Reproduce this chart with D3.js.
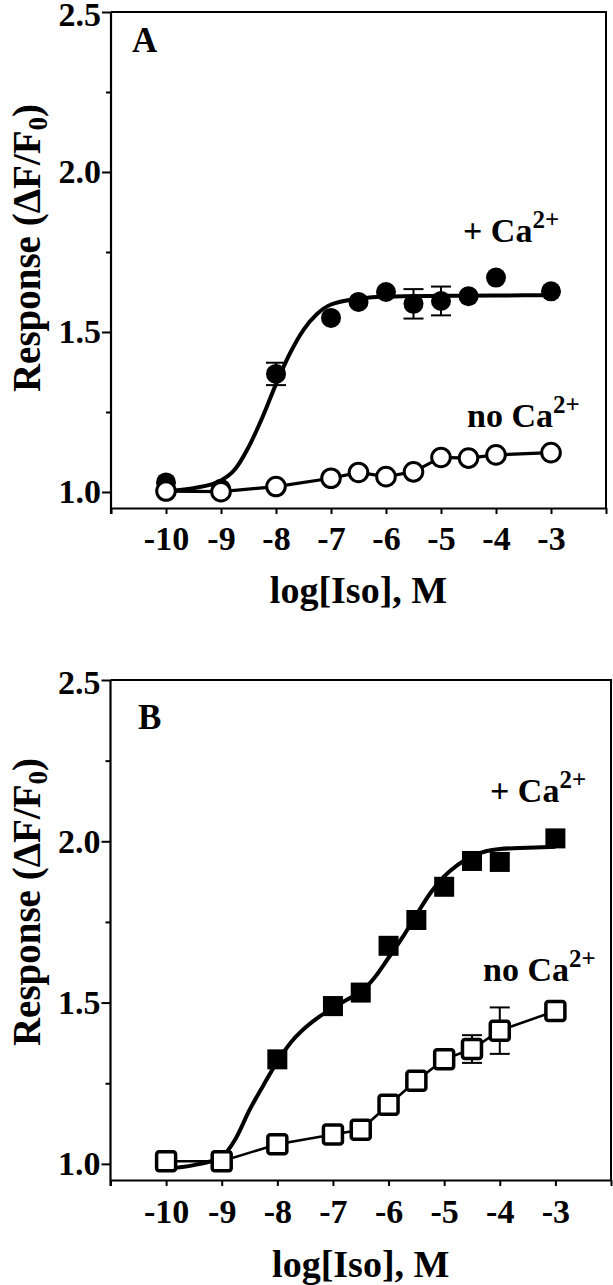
<!DOCTYPE html>
<html><head><meta charset="utf-8">
<script src="https://cdn.jsdelivr.net/npm/d3@7"></script>
<style>
html,body{margin:0;padding:0;background:#fff;}
svg{display:block;}
text{font-family:"Liberation Serif","Times New Roman",serif;font-weight:bold;fill:#000;}
</style></head><body>
<svg id="chart" width="613" height="1285"></svg>
<script>
// ---------- shared axis data ----------
const xTickValues = [-10, -9, -8, -7, -6, -5, -4, -3];
const xEndTicks = [-11, -2];
const yTickValues = [1.0, 1.5, 2.0, 2.5];
const yMinorTickValues = [1.25, 1.75, 2.25];
const xDomain = [-11, -2];
const yDomain = [0.95, 2.5];
const xTitle = "log[Iso], M";

// ---------- panel A ----------
const logIsoA = [-10, -9, -8, -7, -6.5, -6, -5.5, -5, -4.5, -4, -3];
const caA = [1.03, 1.01, 1.369, 1.544, 1.594, 1.625, 1.588, 1.597, 1.612, 1.670, 1.627];
const caAErr = [0, 0, 0.035, 0, 0, 0, 0.046, 0.045, 0, 0, 0];
const noCaA = [1.003, 1.001, 1.017, 1.043, 1.061, 1.048, 1.063, 1.108, 1.106, 1.116, 1.123];
const noCaAErr = [0, 0, 0, 0, 0, 0, 0, 0, 0, 0, 0];
const fitAx = [-10, -9.5, -9, -8.75, -8.5, -8.25, -8, -7.75, -7.5, -7.25, -7, -6.5, -6, -5, -4, -3];
const fitAy = [1.003, 1.012, 1.036, 1.07, 1.14, 1.232, 1.337, 1.432, 1.507, 1.557, 1.586, 1.604, 1.611, 1.613, 1.614, 1.615];

// ---------- panel B ----------
const logIsoB = [-10, -9, -8, -7, -6.5, -6, -5.5, -5, -4.5, -4, -3];
const caB = [1.008, 1.008, 1.324, 1.489, 1.531, 1.676, 1.756, 1.859, 1.939, 1.936, 2.009];
const caBErr = [0, 0, 0, 0.027, 0, 0, 0, 0, 0.015, 0, 0];
const noCaB = [1.008, 1.008, 1.061, 1.091, 1.106, 1.183, 1.258, 1.324, 1.356, 1.413, 1.474];
const noCaBErr = [0, 0, 0, 0, 0, 0, 0, 0, 0.043, 0.072, 0];
const fitBx = [-10, -9.5, -9, -8.75, -8.5, -8.25, -8, -7.75, -7.5, -7.25, -7, -6.75, -6.5, -6.25, -6, -5.75, -5.5, -5.25, -5, -4.75, -4.5, -4.25, -4, -3.5, -3];
const fitBy = [0.985, 0.996, 1.022, 1.078, 1.167, 1.244, 1.317, 1.378, 1.422, 1.456, 1.483, 1.509, 1.533, 1.578, 1.639, 1.702, 1.772, 1.839, 1.891, 1.928, 1.953, 1.969, 1.976, 1.980, 1.983];

const svg = d3.select("#chart");

function drawPanel(cfg) {
  const x = d3.scaleLinear().domain(xDomain).range([cfg.left, cfg.right]);
  const y = d3.scaleLinear().domain(yDomain).range([cfg.bottom, cfg.top]);
  const g = svg.append("g");

  // frame (top & right)
  g.append("path")
    .attr("d", `M${cfg.left},${cfg.top}H${cfg.right}V${cfg.bottom}`)
    .attr("fill", "none").attr("stroke", "#000").attr("stroke-width", 2);

  // x axis
  const xAxis = d3.axisBottom(x)
    .tickValues(xEndTicks.concat(xTickValues))
    .tickSize(6).tickSizeOuter(0)
    .tickFormat(d => xTickValues.includes(d) ? String(d) : "");
  const gx = g.append("g").attr("transform", `translate(0,${cfg.bottom})`).call(xAxis);
  gx.select(".domain").attr("stroke-width", 2.2);
  gx.selectAll(".tick line").attr("stroke-width", 2);
  gx.selectAll(".tick text").attr("font-size", 34)
    .attr("dy", null).attr("y", cfg.xLabelDy);

  // y axis major
  const yAxis = d3.axisLeft(y)
    .tickValues(yTickValues).tickSize(9).tickSizeOuter(0).tickPadding(1)
    .tickFormat(d3.format(".1f"));
  const gy = g.append("g").attr("transform", `translate(${cfg.left},0)`).call(yAxis);
  gy.select(".domain").attr("stroke-width", 2.2)
    .attr("d", `M0,${cfg.bottom + 6}V${cfg.top}`);
  gy.selectAll(".tick line").attr("stroke-width", 2);
  gy.selectAll(".tick text").attr("font-size", 34)
    .attr("y", d => d === yTickValues[yTickValues.length - 1] ? 3 : 0);

  // y axis minor
  const yMinor = d3.axisLeft(y).tickValues(yMinorTickValues).tickSize(5).tickFormat("");
  const gym = g.append("g").attr("transform", `translate(${cfg.left},0)`).call(yMinor);
  gym.select(".domain").remove();
  gym.selectAll(".tick line").attr("stroke-width", 2);

  // y title
  const yt = g.append("text")
    .attr("transform", `translate(${cfg.yTitleX},${cfg.yTitleY}) rotate(-90)`)
    .attr("text-anchor", "middle").attr("font-size", 39);
  yt.append("tspan").text("Response (\u0394F/F");
  yt.append("tspan").attr("font-size", 27).attr("dy", 7).text("0");
  yt.append("tspan").attr("dy", -7).text(")");

  // x title
  g.append("text").attr("x", (cfg.left + cfg.right) / 2).attr("y", cfg.xTitleY)
    .attr("text-anchor", "middle").attr("font-size", 38).text(xTitle);

  // panel letter
  g.append("text").attr("x", cfg.letterX).attr("y", cfg.letterY)
    .attr("font-size", 35).text(cfg.letter);

  // series annotations
  cfg.labels.forEach(l => {
    const t = g.append("text").attr("x", l.x).attr("y", l.y).attr("font-size", 34);
    t.append("tspan").text(l.text);
    t.append("tspan").attr("font-size", 25).attr("dy", -14).text("2+");
  });

  // fitted curve (+Ca)
  const fitPts = cfg.fitX.map((v, i) => [v, cfg.fitY[i]]);
  g.append("path").datum(fitPts)
    .attr("d", d3.line().x(d => x(d[0])).y(d => y(d[1])).curve(d3.curveMonotoneX))
    .attr("fill", "none").attr("stroke", "#000").attr("stroke-width", 4);

  // no Ca line
  const noPts = cfg.xs.map((v, i) => [v, cfg.noCa[i]]);
  g.append("path").datum(noPts)
    .attr("d", d3.line().x(d => x(d[0])).y(d => y(d[1])))
    .attr("fill", "none").attr("stroke", "#000").attr("stroke-width", cfg.noCaWidth);

  // error bars
  function errBars(vals, errs) {
    const data = cfg.xs.map((v, i) => ({x: v, y: vals[i], e: errs[i]})).filter(d => d.e > 0);
    const eg = g.append("g").attr("stroke", "#000").attr("stroke-width", 2);
    data.forEach(d => {
      const cx = x(d.x), y1 = y(d.y + d.e), y2 = y(d.y - d.e);
      eg.append("line").attr("x1", cx).attr("x2", cx).attr("y1", y1).attr("y2", y2);
      eg.append("line").attr("x1", cx - 10).attr("x2", cx + 10).attr("y1", y1).attr("y2", y1);
      eg.append("line").attr("x1", cx - 10).attr("x2", cx + 10).attr("y1", y2).attr("y2", y2);
    });
  }
  errBars(cfg.ca, cfg.caErr);
  errBars(cfg.noCa, cfg.noCaErr);

  const caPts = cfg.xs.map((v, i) => [v, cfg.ca[i]]);
  if (cfg.marker === "circle") {
    g.selectAll(".ca").data(caPts).enter().append("circle")
      .attr("cx", d => x(d[0])).attr("cy", d => y(d[1])).attr("r", 10).attr("fill", "#000");
    g.selectAll(".noca").data(noPts).enter().append("circle")
      .attr("cx", d => x(d[0])).attr("cy", d => y(d[1])).attr("r", 9.3)
      .attr("fill", "#fff").attr("stroke", "#000").attr("stroke-width", 3);
  } else {
    const s = 20;
    g.selectAll(".ca").data(caPts).enter().append("rect")
      .attr("x", d => x(d[0]) - s / 2).attr("y", d => y(d[1]) - s / 2)
      .attr("width", s).attr("height", s).attr("fill", "#000");
    const so = 19;
    g.selectAll(".noca").data(noPts).enter().append("rect")
      .attr("x", d => x(d[0]) - so / 2).attr("y", d => y(d[1]) - so / 2)
      .attr("width", so).attr("height", so).attr("rx", 2.5)
      .attr("fill", "#fff").attr("stroke", "#000").attr("stroke-width", 3.5);
  }
}

drawPanel({
  left: 111, right: 606, top: 12, bottom: 508,
  xLabelDy: 42, xTitleY: 603, yTitleX: 40, yTitleY: 248,
  letter: "A", letterX: 132, letterY: 52,
  labels: [{text: "+ Ca", x: 463, y: 242}, {text: "no Ca", x: 467, y: 427}],
  xs: logIsoA, ca: caA, caErr: caAErr, noCa: noCaA, noCaErr: noCaAErr,
  fitX: fitAx, fitY: fitAy, marker: "circle", noCaWidth: 3.2
});

drawPanel({
  left: 110.5, right: 611, top: 680, bottom: 1180,
  xLabelDy: 43, xTitleY: 1277, yTitleX: 40, yTitleY: 902,
  letter: "B", letterX: 138, letterY: 729,
  labels: [{text: "+ Ca", x: 490, y: 802}, {text: "no Ca", x: 483, y: 981}],
  xs: logIsoB, ca: caB, caErr: caBErr, noCa: noCaB, noCaErr: noCaBErr,
  fitX: fitBx, fitY: fitBy, marker: "square", noCaWidth: 2.6
});
</script>
</body></html>
